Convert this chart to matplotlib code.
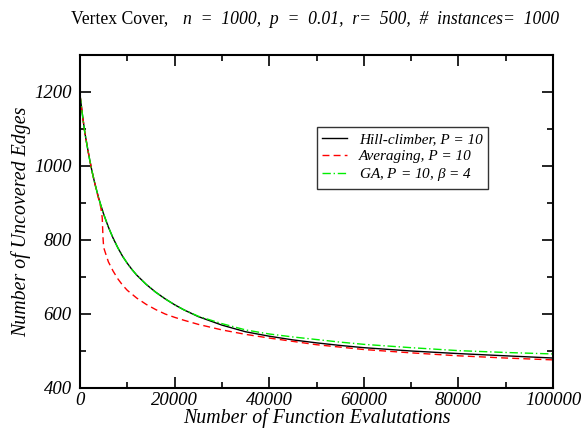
import numpy as np
import matplotlib
matplotlib.use("Agg")
import matplotlib.pyplot as plt
from matplotlib.ticker import MultipleLocator

# values
evals_hc = [0, 500, 1000, 1500, 2000, 2500, 3000, 3500, 4000, 4500, 5000,
            6000, 7000, 8000, 9000, 10000, 11000, 12000, 14000, 16000, 18000,
            20000, 22000, 25000, 30000, 35000, 40000, 45000, 50000, 55000,
            60000, 70000, 80000, 90000, 100000]
hill_climber = [1192, 1140, 1092, 1055, 1020, 988, 960, 935, 911, 890, 870,
                835, 805, 779, 756, 737, 720, 705, 680, 659, 641,
                625, 611, 593, 570, 552, 540, 530, 522, 515,
                509, 500, 493, 487, 481]

evals_avg = [0, 500, 1000, 1500, 2000, 2500, 3000, 3500, 4000, 4400, 4700,
             4850, 5000, 5300, 6000, 7000, 8000, 9000, 10000, 12000, 14000,
             16000, 18000, 20000, 22000, 25000, 30000, 35000, 40000, 45000,
             50000, 60000, 70000, 80000, 90000, 100000]
averaging = [1192, 1140, 1092, 1055, 1020, 988, 960, 933, 908, 888, 860,
             810, 780, 768, 741, 716, 695, 678, 664, 643, 626,
             612, 600, 591, 583, 572, 557, 545, 535, 526,
             517, 504, 495, 487, 481, 476]

evals_ga = [0, 500, 1000, 1500, 2000, 2500, 3000, 3500, 4000, 4500, 5000,
            6000, 7000, 8000, 9000, 10000, 11000, 12000, 14000, 16000, 18000,
            20000, 22000, 25000, 30000, 35000, 40000, 45000, 50000, 55000,
            60000, 70000, 80000, 90000, 100000]
ga = [1192, 1140, 1092, 1055, 1020, 988, 960, 935, 911, 890, 870,
      835, 805, 779, 756, 737, 720, 705, 680, 659, 641,
      625, 611, 594, 574, 557, 546, 538, 531, 524,
      518, 509, 501, 496, 492]

plt.rcParams['font.family'] = ['Liberation Serif', 'DejaVu Serif']
plt.rcParams['mathtext.fontset'] = 'custom'
plt.rcParams['mathtext.rm'] = 'Liberation Serif'
plt.rcParams['mathtext.it'] = 'Liberation Serif:italic'

fig = plt.figure(figsize=(5.87, 4.28), dpi=100)
ax = fig.add_axes([80 / 587, 1 - 388 / 428, 473 / 587, 333 / 428])

ax.plot(evals_hc, hill_climber, color='black', lw=1.0, ls='-',
        label='Hill-climber, P = 10')
ax.plot(evals_avg, averaging, color='red', lw=1.0, ls=(0, (5, 3)),
        label='Averaging, P = 10')
ax.plot(evals_ga, ga, color='#00ee00', lw=1.0, ls=(0, (6, 2, 1, 2)),
        label=r'GA, P = 10, $\beta$ = 4')

ax.set_xlim(0, 100000)
ax.set_ylim(400, 1300)
ax.xaxis.set_major_locator(MultipleLocator(20000))
ax.xaxis.set_minor_locator(MultipleLocator(10000))
ax.yaxis.set_major_locator(MultipleLocator(200))
ax.yaxis.set_minor_locator(MultipleLocator(100))
ax.tick_params(which='both', direction='in', top=True, right=True,
               width=1.2, labelsize=13.5)
ax.tick_params(axis='y', pad=6)
ax.tick_params(axis='x', pad=3)
ax.tick_params(which='major', length=8)
ax.tick_params(which='minor', length=4)
for lab in ax.get_xticklabels() + ax.get_yticklabels():
    lab.set_fontstyle('italic')
for s in ax.spines.values():
    s.set_linewidth(1.5)

ax.set_xlabel('Number of Function Evalutations', fontsize=14.3,
              fontstyle='italic', labelpad=-1)
ax.set_ylabel('Number of Uncovered Edges', fontsize=14.3,
              fontstyle='italic', labelpad=2)

leg = ax.legend(loc='upper left', bbox_to_anchor=(0.501, 0.784),
                prop={'family': 'Liberation Serif', 'style': 'italic', 'size': 11},
                frameon=True, fancybox=False, edgecolor='black',
                handlelength=1.6, handletextpad=0.8, borderpad=0.35,
                labelspacing=0.22, borderaxespad=0)
leg.get_frame().set_linewidth(1.0)

fig.text(168 / 587, 1 - 23.5 / 428, 'Vertex Cover,', ha='right',
         va='baseline', fontsize=12.7)
fig.text(183 / 587, 1 - 23.5 / 428,
         'n  =  1000,  p  =  0.01,  r=  500,  #  instances=  1000',
         ha='left', va='baseline', fontsize=12.7, fontstyle='italic')

fig.savefig('out.png', dpi=100)
